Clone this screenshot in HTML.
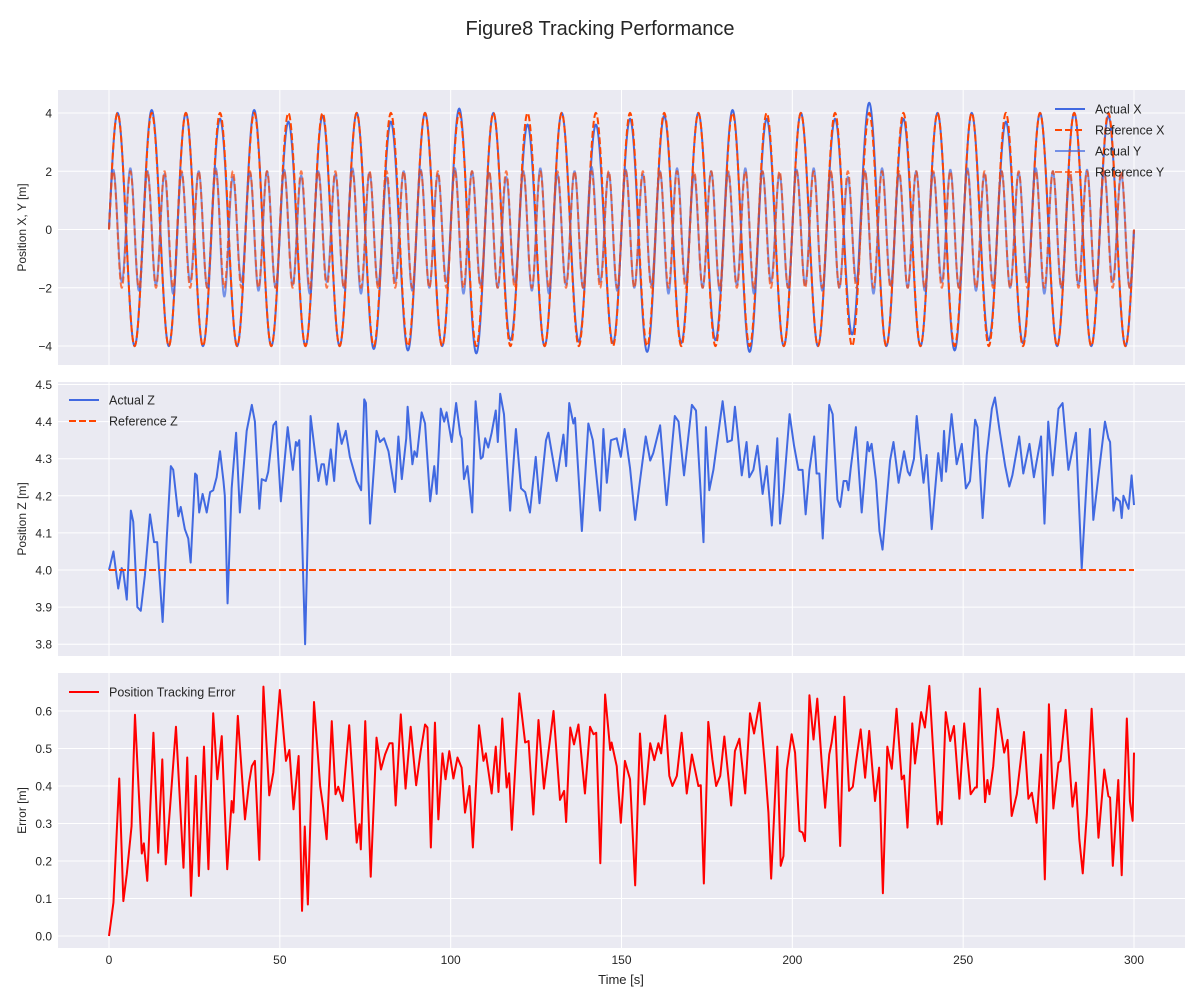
<!DOCTYPE html>
<html><head><meta charset="utf-8"><title>Figure8 Tracking Performance</title>
<style>
html,body{margin:0;padding:0;background:#fff;}
svg{display:block;font-family:"Liberation Sans",Arial,sans-serif;}
</style></head>
<body>
<svg id="fig" width="1200" height="1000" viewBox="0 0 1200 1000" xmlns="http://www.w3.org/2000/svg">
<text x="600" y="35" text-anchor="middle" font-size="20" fill="#262626">Figure8 Tracking Performance</text>
<g id="p1"></g>
<g id="p2"></g>
<g id="p3"></g>
<text x="621" y="984" text-anchor="middle" font-size="13" fill="#262626">Time [s]</text>
</svg>
<script>
// ---- data ----
const xTicks = [0, 50, 100, 150, 200, 250, 300];
const xyTicks = [-4, -2, 0, 2, 4];
const zTicks = [3.8, 3.9, 4.0, 4.1, 4.2, 4.3, 4.4, 4.5];
const errTicks = [0.0, 0.1, 0.2, 0.3, 0.4, 0.5, 0.6];
const refXAmp = 4;
const refYAmp = 2;
const refZ = 4.0;
const xPeriod = 10;
const xMax = [4.0,4.1,4.0,3.8,4.1,3.7,3.9,4.0,3.7,4.0, 4.15,4.0,3.6,4.0,3.6,3.8,3.9,4.0,4.1,3.8, 4.0,3.8,4.35,3.8,4.0,4.0,3.7,4.0,4.0,3.9];
const xMin = [-4.0,-4.0,-4.0,-4.0,-4.0,-4.0,-4.0,-4.1,-4.15,-4.0, -4.25,-3.8,-4.0,-3.85,-3.9,-4.2,-3.9,-3.8,-4.2,-4.0, -4.0,-3.6,-4.0,-4.0,-4.15,-3.8,-3.9,-4.0,-4.0,-4.0];
const yMax = [2.05,2.1,2.0,1.9,1.95,2.0,2.1,1.8,1.95,2.0, 2.05,1.85,2.0,1.9,2.1,1.95,1.8,2.0,2.05,1.9, 2.1,2.0,1.95,1.8,2.0,2.1,1.9,2.0,2.15,1.95, 2.05,1.9,2.0,2.1,1.85,2.0,1.95,2.1,2.0,1.9, 2.05,2.1,1.95,1.8,2.0,2.1,1.9,2.0,1.95,2.05, 2.1,1.9,2.0,1.95,2.1,2.0,1.85,2.05,2.0,1.9];
const yMin = [-1.8,-2.1,-1.9,-2.2,-1.8,-2.0,-2.3,-1.8,-2.1,-2.0, -1.9,-2.2,-1.8,-2.0,-2.2,-1.9,-1.8,-2.1,-2.0,-1.8, -2.2,-1.9,-2.0,-1.8,-2.1,-2.2,-1.9,-2.0,-1.8,-2.1, -2.0,-1.9,-2.2,-1.8,-2.0,-2.1,-1.9,-2.2,-1.8,-2.0, -1.9,-2.1,-2.0,-1.8,-2.2,-1.9,-2.0,-2.1,-1.8,-2.0, -2.1,-1.9,-2.0,-1.8,-2.2,-2.0,-1.9,-2.1,-1.8,-2.0];
const zTimes = [0,1.3,2.7,3.7,4.2,5.2,6.4,7.1,8.3,9.3,10.5,12,13.2,14.1,15.7,16.9,18.1,18.8,20.3,21,22.2,23.2,23.9,25.2,25.7,26.4,27.4,28.6,29.6,30.5,31.5,32.5,33.5,33.9,34.7,35.9,37.2,38.3,40.3,41.8,42.7,44,44.7,45.9,46.6,48.1,48.9,50.3,52.3,53.8,54.7,55.1,55.7,57.4,59,61.3,62.2,62.9,63.7,64.9,65.9,67,68.1,69.3,70.5,72.5,73.8,74.7,75.2,76.4,78.3,79.3,80.5,81.8,83.7,84.7,85.7,87,87.4,88.8,89.4,90.1,91.5,92.5,94,95.2,95.9,97.1,98.1,98.8,100.3,101.6,102.8,103.2,103.9,104.9,106.3,107.3,108.8,109.4,110.1,111,112,113.2,113.8,114.5,115.6,117.4,119.1,120.6,121.8,123.2,124.9,126,127.9,128.6,131,133,133.8,134.7,135.9,136.4,138.4,140.3,141.6,143.7,144.7,145.7,146.9,148.6,149.8,150.9,152.5,154,155.4,157.1,158.4,159.3,161.3,163.2,165.6,166.7,168.3,170.6,171.8,174,174.7,175.7,176.9,179.6,181,182.3,183.2,184,185.2,186.6,187.4,188.6,189.8,191.3,192.5,194,195.6,196.4,197.4,199.2,200.5,201.8,203,203.9,205,206.4,207.1,207.9,208.9,210.8,211.8,213.2,214,215,215.9,216.4,217.1,218.6,220.3,222,222.5,223.2,224.5,225.5,226.4,228.6,229.6,231.1,232.7,233.8,234.4,235.6,236.4,238.4,239.3,240.8,242.7,243.7,244.4,245,246.6,248.1,249.6,250.8,252,253.5,254.2,255.7,256.9,258.4,259.3,260.6,262.3,263.5,264.4,266.4,267.6,269.4,270.7,272.8,273.8,274.9,276.2,277.9,279.1,280.8,283,284.7,286.2,287.1,288.1,289.6,291.5,292.5,293,294,294.7,295.9,296.4,296.9,298.4,299.3,300];
const zValues = [4.0,4.05,3.95,4.005,3.995,3.92,4.16,4.13,3.9,3.89,3.985,4.15,4.075,4.075,3.86,4.085,4.28,4.27,4.145,4.17,4.11,4.085,4.02,4.26,4.255,4.155,4.205,4.155,4.21,4.215,4.25,4.32,4.24,4.2,3.91,4.22,4.37,4.155,4.375,4.445,4.4,4.165,4.245,4.24,4.265,4.39,4.4,4.185,4.385,4.27,4.345,4.335,4.35,3.8,4.415,4.24,4.285,4.285,4.23,4.325,4.24,4.395,4.34,4.375,4.305,4.24,4.215,4.46,4.45,4.125,4.375,4.345,4.355,4.32,4.21,4.36,4.245,4.355,4.44,4.285,4.32,4.305,4.425,4.395,4.185,4.28,4.205,4.435,4.4,4.425,4.345,4.45,4.365,4.355,4.245,4.28,4.155,4.455,4.3,4.305,4.355,4.33,4.37,4.43,4.345,4.475,4.42,4.16,4.38,4.22,4.21,4.155,4.305,4.18,4.35,4.37,4.24,4.365,4.28,4.45,4.395,4.41,4.105,4.395,4.35,4.16,4.38,4.235,4.35,4.355,4.305,4.38,4.275,4.135,4.24,4.36,4.295,4.315,4.39,4.175,4.415,4.4,4.255,4.445,4.43,4.075,4.385,4.215,4.27,4.455,4.345,4.35,4.44,4.37,4.255,4.345,4.25,4.27,4.335,4.205,4.28,4.12,4.355,4.125,4.21,4.42,4.335,4.27,4.27,4.15,4.27,4.36,4.26,4.26,4.085,4.445,4.42,4.19,4.17,4.24,4.24,4.215,4.275,4.385,4.155,4.345,4.32,4.34,4.24,4.105,4.055,4.295,4.345,4.235,4.32,4.265,4.255,4.3,4.415,4.235,4.31,4.11,4.315,4.24,4.375,4.265,4.42,4.285,4.34,4.22,4.24,4.405,4.385,4.14,4.31,4.435,4.465,4.38,4.28,4.225,4.255,4.36,4.26,4.34,4.25,4.36,4.125,4.4,4.255,4.435,4.45,4.27,4.37,4.005,4.25,4.38,4.135,4.255,4.4,4.355,4.345,4.16,4.195,4.185,4.14,4.2,4.165,4.255,4.175];
const errTimes = [0,1.3,3.0,4.2,5.2,6.6,7.6,9.6,10.2,11.2,13,14.4,15.6,16.6,17.9,19.6,21.8,22.9,24,25.4,26.3,27.8,29.1,30.5,31.7,33,34.6,35.9,36.4,37.7,39.8,41,41.8,42.7,44,45.2,46.9,48.1,50,51.8,52.8,54,55.5,56.5,57.3,58.2,60,61.8,62.7,63.7,65.2,66.3,67.1,68.4,70.3,72.5,73.3,73.7,75,76.6,78.3,79.6,80.8,82.1,83,83.9,85.4,86.8,88.3,89.9,91.2,92.5,93.2,94.2,95.4,96.4,97.6,98.5,99.6,100.8,102,103.2,104.2,105.5,106.5,108.3,109.6,110.3,112,113.2,114,115.1,116.4,117.1,117.9,120.1,121.8,122.8,124.2,125.7,127.3,130.1,132,133.2,133.8,135,136.1,137.4,139.3,140.8,141.8,142.6,143.8,145.2,146.7,147.1,148.6,149.8,151,152.5,154,155.4,156.7,158.4,159.6,160.8,161.6,162.8,164,164.9,166.2,167.6,169.1,170.6,172.5,173.2,174.1,175.4,176.6,177.7,178.9,180.1,182.1,183.2,184.5,186.2,187.6,188.8,190.4,192,193,193.8,195.6,196.6,197.4,198.4,199.8,200.8,202.1,203,203.7,205,206.2,207.3,208.6,209.6,210.8,211.5,212.5,214,215.2,216.6,217.7,218.6,220,221.3,222.5,224.2,225.4,226.5,227.8,229.1,230.5,232,232.7,233.7,235.1,235.9,237.7,238.8,240.1,242.5,243.2,243.7,244.9,246.2,247.3,248.9,250.3,252.2,253.5,254,254.9,256.4,257.1,257.7,258.8,260.1,262,263,264.2,265.7,267.8,269.1,270.1,271.5,272.8,273.9,275.1,276.4,277.9,278.5,280,282,283,284,285,286.2,287.6,289.6,291.3,292.5,293,293.8,295.4,296.4,297.9,298.8,299.6,300];
const errValues = [0,0.089,0.42,0.093,0.165,0.293,0.59,0.22,0.247,0.147,0.542,0.222,0.471,0.191,0.347,0.558,0.182,0.476,0.107,0.427,0.16,0.505,0.178,0.594,0.418,0.533,0.178,0.36,0.329,0.587,0.311,0.409,0.453,0.467,0.203,0.665,0.375,0.436,0.656,0.467,0.496,0.338,0.48,0.067,0.292,0.084,0.624,0.4,0.342,0.258,0.573,0.378,0.398,0.36,0.562,0.249,0.298,0.231,0.573,0.158,0.529,0.444,0.484,0.514,0.514,0.348,0.591,0.393,0.558,0.402,0.491,0.564,0.556,0.236,0.569,0.311,0.487,0.418,0.493,0.42,0.476,0.449,0.329,0.4,0.236,0.562,0.467,0.487,0.38,0.505,0.384,0.58,0.396,0.434,0.283,0.647,0.516,0.52,0.324,0.576,0.393,0.6,0.363,0.387,0.304,0.556,0.511,0.564,0.38,0.558,0.538,0.542,0.194,0.644,0.496,0.516,0.453,0.302,0.467,0.418,0.135,0.54,0.351,0.514,0.469,0.514,0.487,0.588,0.427,0.4,0.427,0.542,0.38,0.484,0.4,0.402,0.14,0.571,0.471,0.4,0.427,0.532,0.348,0.493,0.526,0.38,0.594,0.54,0.622,0.453,0.329,0.153,0.505,0.187,0.213,0.444,0.538,0.489,0.28,0.276,0.253,0.642,0.524,0.633,0.462,0.342,0.484,0.516,0.585,0.24,0.638,0.387,0.398,0.462,0.551,0.422,0.547,0.36,0.449,0.114,0.505,0.446,0.606,0.418,0.428,0.289,0.567,0.46,0.597,0.556,0.667,0.298,0.331,0.298,0.597,0.52,0.56,0.366,0.567,0.378,0.396,0.396,0.66,0.357,0.416,0.378,0.453,0.606,0.489,0.523,0.32,0.378,0.544,0.366,0.382,0.302,0.484,0.151,0.618,0.34,0.462,0.467,0.603,0.345,0.409,0.258,0.167,0.324,0.606,0.262,0.444,0.373,0.369,0.187,0.416,0.162,0.58,0.36,0.307,0.489];

// ---- layout ----
const NS = 'http://www.w3.org/2000/svg';
const L = 58, R = 1185;
const X0 = 109, X1 = 1134;
function sx(t){ return X0 + (t - 0) * (X1 - X0) / 300; }
function mk(tag, attrs, parent){ const e = document.createElementNS(NS, tag); for (const k in attrs) e.setAttribute(k, attrs[k]); parent.appendChild(e); return e; }

function panel(g, top, bottom, ticks, sy, fmt, ylabel, nameKey){
  const bg = mk('rect', {x:L, y:top, width:R-L, height:bottom-top, fill:'#eaeaf2'}, g);
  
  
  for (const t of xTicks){
    const ln = mk('line', {x1:sx(t), x2:sx(t), y1:top, y2:bottom, stroke:'#fff', 'stroke-width':1}, g);
    
    
  }
  for (const v of ticks){
    const y = sy(v);
    const ln = mk('line', {x1:L, x2:R, y1:y, y2:y, stroke:'#fff', 'stroke-width':1}, g);
    
    
    const tx = mk('text', {x:52, y:y+4.5, 'text-anchor':'end', 'font-size':12, fill:'#262626'}, g);
    tx.textContent = fmt(v);
    
    
  }
  const cy = (top + bottom) / 2;
  const yl = mk('text', {x:0, y:0, transform:'translate(26,'+cy+') rotate(-90)', 'text-anchor':'middle', 'font-size':12, fill:'#262626'}, g);
  yl.textContent = ylabel;
  
  
}

function pathFrom(ts, vs, sy){
  let d = '';
  for (let i = 0; i < ts.length; i++) d += (i ? 'L' : 'M') + sx(ts[i]).toFixed(2) + ',' + sy(vs[i]).toFixed(2);
  return d;
}

// oscillation through alternating extrema (max first), half-cosine between extrema
function oscSeries(maxArr, minArr, period){
  const ext = [];
  for (let i = 0; i < maxArr.length; i++){ ext.push(maxArr[i]); if (i < minArr.length) ext.push(minArr[i]); }
  const half = period / 2, first = period / 4;
  const ts = [], vs = [];
  for (let k = 0; k <= 3000; k++){
    const t = k * 0.1;
    let v;
    if (t <= first){ v = ext[0] * Math.sin(Math.PI / 2 * t / first); }
    else {
      const pos = (t - first) / half;
      const i = Math.floor(pos);
      if (i >= ext.length - 1){ v = ext[ext.length-1] * Math.cos(Math.PI / 2 * (t - first - (ext.length-1)*half) / first); }
      else {
        const f = pos - i, a = ext[i], b = ext[i+1];
        v = a + (b - a) * (1 - Math.cos(Math.PI * f)) / 2;
      }
    }
    ts.push(t); vs.push(v);
  }
  return [ts, vs];
}

// ---- panel 1 ----
const g1 = document.getElementById('p1');
const sy1 = v => 229.5 - v * 29.125;
panel(g1, 90, 365, xyTicks, sy1, v => String(v).replace('-', '\u2212'), 'Position X, Y [m]', 'xy');
const refXMax = xMax.map(() => refXAmp), refXMin = xMin.map(() => -refXAmp);
const refYMax = yMax.map(() => refYAmp), refYMin = yMin.map(() => -refYAmp);
const [tA, vAX] = oscSeries(xMax, xMin, xPeriod);
const [, vRX] = oscSeries(refXMax, refXMin, xPeriod);
const [, vAY] = oscSeries(yMax, yMin, xPeriod / 2);
const [, vRY] = oscSeries(refYMax, refYMin, xPeriod / 2);
let p;
p = mk('path', {d:pathFrom(tA, vAX, sy1), fill:'none', stroke:'#4169e1', 'stroke-width':2}, g1);


p = mk('path', {d:pathFrom(tA, vRX, sy1), fill:'none', stroke:'#ff4500', 'stroke-width':2, 'stroke-dasharray':'7,3'}, g1);


p = mk('path', {d:pathFrom(tA, vAY, sy1), fill:'none', stroke:'#4169e1', 'stroke-opacity':0.7, 'stroke-width':2}, g1);


p = mk('path', {d:pathFrom(tA, vRY, sy1), fill:'none', stroke:'#ff4500', 'stroke-opacity':0.7, 'stroke-width':2, 'stroke-dasharray':'7,3'}, g1);



function legend(g, x, y, items){
  items.forEach((it, i) => {
    const yy = y + i * 21;
    const ln = mk('line', {x1:x, x2:x+30, y1:yy, y2:yy, stroke:it.c, 'stroke-width':2, 'stroke-opacity':it.o || 1}, g);
    if (it.dash) ln.setAttribute('stroke-dasharray', '7,3');
    
    
    const tx = mk('text', {x:x+40, y:yy+4.5, 'font-size':12.5, fill:'#262626'}, g);
    tx.textContent = it.t;
    
    
  });
}
legend(g1, 1055, 109, [{t:'Actual X', c:'#4169e1'}, {t:'Reference X', c:'#ff4500', dash:1}, {t:'Actual Y', c:'#4169e1', o:0.7}, {t:'Reference Y', c:'#ff4500', o:0.7, dash:1}]);

// ---- panel 2 ----
const g2 = document.getElementById('p2');
const sy2 = v => 570 - (v - 4.0) * 371;
panel(g2, 382, 656, zTicks, sy2, v => v.toFixed(1), 'Position Z [m]', 'z');
p = mk('path', {d:pathFrom(zTimes, zValues, sy2), fill:'none', stroke:'#4169e1', 'stroke-width':2, 'stroke-linejoin':'round'}, g2);


p = mk('path', {d:pathFrom([0, 300], [refZ, refZ], sy2), fill:'none', stroke:'#ff4500', 'stroke-width':2, 'stroke-dasharray':'7,3'}, g2);


legend(g2, 69, 400, [{t:'Actual Z', c:'#4169e1'}, {t:'Reference Z', c:'#ff4500', dash:1}]);

// ---- panel 3 ----
const g3 = document.getElementById('p3');
const sy3 = v => 936 - v * 375;
panel(g3, 673, 948, errTicks, sy3, v => v.toFixed(1), 'Error [m]', 'error');
p = mk('path', {d:pathFrom(errTimes, errValues, sy3), fill:'none', stroke:'#ff0000', 'stroke-width':2, 'stroke-linejoin':'round'}, g3);


legend(g3, 69, 692, [{t:'Position Tracking Error', c:'#ff0000'}]);

// x tick labels
const svg = document.getElementById('fig');
for (const t of xTicks){
  const tx = mk('text', {x:sx(t), y:964, 'text-anchor':'middle', 'font-size':12, fill:'#262626'}, svg);
  tx.textContent = String(t);
  
  
}
</script>
</body></html>
